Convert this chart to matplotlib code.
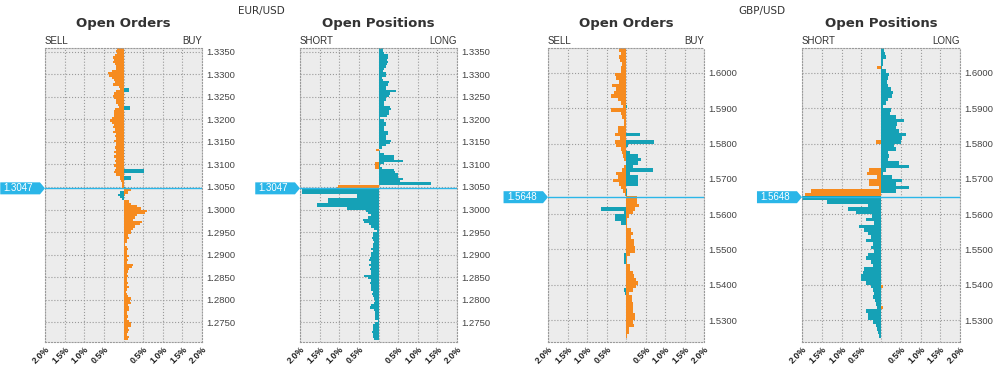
import numpy as np
import matplotlib
matplotlib.use("Agg")
import matplotlib.pyplot as plt
from matplotlib.patches import Polygon
import matplotlib.transforms as mtransforms

ORANGE = '#f68b1f'
TEAL = '#15a1b6'
BLUE = '#2bb6e8'
BG = '#ececec'
GRID = '#9a9a9a'
TXT = '#333333'

# price buckets (bin centres)
eur_levels = np.round(1.33575 - 0.0005 * np.arange(130), 5)
gbp_levels = np.round(1.6065 - 0.001 * np.arange(82), 4)
eur_price = 1.3047
gbp_price = 1.5648
eur_ticks = [1.2750, 1.2800, 1.2850, 1.2900, 1.2950, 1.3000, 1.3050,
             1.3100, 1.3150, 1.3200, 1.3250, 1.3300, 1.3350]
gbp_ticks = [1.5300, 1.5400, 1.5500, 1.5600, 1.5700, 1.5800, 1.5900, 1.6000]
x_ticks = [-2, -1.5, -1, -0.5, 0, 0.5, 1, 1.5, 2]
x_labels = ['2.0%', '1.5%', '1.0%', '0.5%', '', '0.5%', '1.0%', '1.5%', '2.0%']

# EUR/USD open orders (% , left side / right side)
eur_ord_left = [
    0.17, 0.20, 0.17, 0.22, 0.26, 0.25, 0.27, 0.22, 0.18, 0.20,
    0.30, 0.39, 0.36, 0.30, 0.25, 0.22, 0.27, 0.12, 0.10, 0.20,
    0.25, 0.27, 0.24, 0.20, 0.18, 0.15, 0.12, 0.22, 0.25, 0.24,
    0.23, 0.30, 0.34, 0.30, 0.25, 0.28, 0.22, 0.26, 0.20, 0.22,
    0.20, 0.24, 0.18, 0.20, 0.22, 0.20, 0.25, 0.20, 0.23, 0.20,
    0.22, 0.20, 0.24, 0.20, 0.22, 0.24, 0.20, 0.08, 0.10, 0.06,
    0.05, 0.03, 0.03, 0, 0.08, 0.13, 0.10, 0.03, 0, 0,
    0, 0, 0, 0, 0, 0, 0, 0, 0, 0,
    0, 0, 0, 0, 0, 0, 0, 0, 0, 0,
    0, 0, 0, 0, 0, 0, 0, 0, 0, 0,
    0, 0, 0, 0, 0, 0, 0, 0, 0, 0,
    0, 0, 0, 0, 0, 0, 0, 0, 0, 0,
    0, 0, 0, 0, 0, 0, 0, 0, 0, 0,
]
eur_ord_right = [
    0, 0, 0, 0, 0, 0, 0, 0, 0, 0,
    0, 0, 0, 0, 0, 0, 0, 0, 0.15, 0.15,
    0, 0, 0, 0, 0, 0, 0.17, 0.17, 0, 0,
    0, 0, 0, 0, 0, 0, 0, 0, 0, 0,
    0, 0, 0, 0, 0, 0, 0, 0, 0, 0,
    0, 0, 0, 0, 0.52, 0.52, 0, 0.19, 0.19, 0,
    0, 0, 0.04, 0.18, 0.12, 0.05, 0, 0, 0.15, 0.18,
    0.34, 0.45, 0.59, 0.55, 0.34, 0.30, 0.25, 0.46, 0.42, 0.29,
    0.25, 0.18, 0.20, 0.12, 0.14, 0.10, 0.08, 0.05, 0.10, 0.12,
    0.10, 0.08, 0.14, 0.10, 0.12, 0.10, 0.25, 0.22, 0.15, 0.12,
    0.10, 0.12, 0.08, 0.10, 0.12, 0.08, 0.14, 0.10, 0.06, 0.10,
    0.12, 0.18, 0.16, 0.18, 0.12, 0.15, 0.14, 0.10, 0.08, 0.12,
    0.10, 0.14, 0.20, 0.18, 0.12, 0.14, 0.12, 0.10, 0.14, 0.12,
]

# EUR/USD open positions
eur_pos_left = [
    0, 0, 0, 0, 0, 0, 0, 0, 0, 0,
    0, 0, 0, 0, 0, 0, 0, 0, 0, 0,
    0, 0, 0, 0, 0, 0, 0, 0, 0, 0,
    0, 0, 0, 0, 0, 0, 0, 0, 0, 0,
    0, 0, 0, 0, 0, 0.06, 0, 0, 0, 0,
    0, 0.08, 0.10, 0.08, 0, 0, 0, 0, 0, 0,
    0, 1.02, 1.06, 1.96, 1.96, 0.56, 0.56, 1.28, 1.28, 1.57,
    1.57, 0.81, 0.32, 0.28, 0.20, 0.27, 0.39, 0.38, 0.23, 0.20,
    0.12, 0.05, 0.15, 0.13, 0.17, 0.15, 0.12, 0.15, 0.14, 0.20,
    0.15, 0.18, 0.20, 0.22, 0.25, 0.20, 0.24, 0.20, 0.22, 0.18,
    0.20, 0.36, 0.26, 0.20, 0.22, 0.18, 0.20, 0.18, 0.15, 0.16,
    0.14, 0.12, 0.10, 0.12, 0.20, 0.22, 0.12, 0.10, 0.10, 0.08,
    0.10, 0.02, 0.10, 0.14, 0.15, 0.14, 0.16, 0.15, 0.15, 0.12,
]
eur_pos_right = [
    0.12, 0.12, 0.14, 0.25, 0.25, 0.22, 0.25, 0.21, 0.20, 0.14,
    0.12, 0.18, 0.18, 0.10, 0.12, 0.26, 0.24, 0.20, 0.20, 0.45,
    0.29, 0.26, 0.20, 0.18, 0.14, 0.14, 0.30, 0.31, 0.28, 0.26,
    0.22, 0.05, 0.15, 0.20, 0.18, 0.15, 0.14, 0.25, 0.24, 0.20,
    0.18, 0.31, 0.30, 0.20, 0.10, 0.02, 0.05, 0.15, 0.40, 0.40,
    0.63, 0.14, 0.05, 0.10, 0.40, 0.42, 0.49, 0.50, 0.63, 0.55,
    1.35, 0, 0, 0, 0, 0, 0, 0, 0, 0,
    0, 0, 0, 0, 0, 0, 0, 0, 0, 0,
    0, 0, 0, 0, 0, 0, 0, 0, 0, 0,
    0, 0, 0, 0, 0, 0, 0, 0, 0, 0,
    0, 0, 0, 0, 0, 0, 0, 0, 0, 0,
    0, 0, 0, 0, 0, 0, 0, 0, 0, 0,
    0, 0, 0, 0, 0, 0, 0, 0, 0, 0,
]

# GBP/USD open orders
gbp_ord_left = [
    0.18, 0.12, 0.17, 0.15, 0.10, 0.12, 0.12, 0.29, 0.25, 0.17,
    0.35, 0.25, 0.30, 0.38, 0.20, 0.12, 0.08, 0.38, 0.12, 0.10,
    0.04, 0.05, 0.21, 0.20, 0.29, 0.16, 0.27, 0.25, 0.12, 0.10,
    0.08, 0.05, 0, 0.05, 0.10, 0.25, 0.20, 0.34, 0.18, 0.12,
    0.08, 0.02, 0, 0, 0, 0.63, 0.05, 0.27, 0.29, 0.12,
    0, 0, 0, 0, 0, 0, 0, 0, 0.06, 0.04,
    0.04, 0, 0, 0, 0, 0, 0, 0, 0.05, 0.03,
    0, 0, 0, 0, 0, 0, 0, 0, 0, 0,
    0, 0,
]
gbp_ord_right = [
    0, 0, 0, 0, 0, 0, 0, 0, 0, 0,
    0, 0, 0, 0, 0, 0, 0.03, 0, 0, 0,
    0, 0, 0, 0, 0.36, 0, 0.73, 0.05, 0, 0.09,
    0.30, 0.39, 0.30, 0.18, 0.70, 0.09, 0.30, 0.30, 0.30, 0,
    0.02, 0.03, 0.28, 0.28, 0.34, 0.22, 0.17, 0.07, 0.03, 0.02,
    0.03, 0.12, 0.19, 0.13, 0.20, 0.20, 0.24, 0.22, 0.09, 0.03,
    0.02, 0.09, 0.10, 0.19, 0.20, 0.26, 0.30, 0.25, 0.17, 0.07,
    0.16, 0.15, 0.18, 0.17, 0.19, 0.22, 0.24, 0.18, 0.20, 0.08,
    0.07, 0.03,
]

# GBP/USD open positions
gbp_pos_left = [
    0, 0, 0, 0, 0, 0.09, 0, 0, 0, 0,
    0, 0, 0, 0, 0, 0, 0, 0, 0, 0,
    0, 0, 0, 0, 0, 0, 0.13, 0, 0, 0,
    0, 0, 0, 0, 0.30, 0.36, 0.09, 0.30, 0.31, 0.05,
    1.76, 1.93, 2.00, 1.36, 0.34, 0.83, 0.64, 0.23, 0.38, 0.17,
    0.55, 0.43, 0.34, 0.26, 0.38, 0.21, 0.26, 0.17, 0.34, 0.38,
    0.26, 0.21, 0.43, 0.45, 0.51, 0.50, 0.38, 0.26, 0.21, 0.17,
    0.21, 0.14, 0.13, 0.09, 0.38, 0.34, 0.34, 0.21, 0.13, 0.09,
    0.07, 0.06,
]
gbp_pos_right = [
    0.08, 0.10, 0.13, 0.04, 0.04, 0.03, 0.12, 0.21, 0.18, 0.14,
    0.17, 0.26, 0.30, 0.28, 0.17, 0.13, 0.05, 0.26, 0.22, 0.38,
    0.57, 0.40, 0.38, 0.45, 0.64, 0.54, 0.50, 0.34, 0.38, 0.17,
    0.21, 0.17, 0.45, 0.71, 0.13, 0.06, 0.28, 0.54, 0.38, 0.72,
    0.38, 0, 0, 0, 0, 0, 0, 0, 0, 0,
    0, 0, 0, 0, 0, 0, 0, 0, 0, 0,
    0, 0, 0, 0, 0, 0, 0, 0.04, 0, 0,
    0, 0, 0, 0.04, 0, 0, 0, 0, 0, 0,
    0, 0,
]


def draw_panel(ax, levels, left, right, price, binw, ylim, ticks, sides):
    levels = np.asarray(levels)
    above = levels > price
    lcol = np.where(above, ORANGE, TEAL)
    rcol = np.where(above, TEAL, ORANGE)
    ax.set_facecolor(BG)
    ax.barh(levels, -np.asarray(left), height=binw, color=lcol, linewidth=0, zorder=2)
    ax.barh(levels, np.asarray(right), height=binw, color=rcol, linewidth=0, zorder=2)
    ax.set_xlim(-2, 2)
    ax.set_ylim(*ylim)
    ax.set_axisbelow(True)
    ax.grid(True, linestyle=':', color=GRID, linewidth=0.8)
    for s in ax.spines.values():
        s.set_linestyle(':')
        s.set_color(GRID)
        s.set_linewidth(0.8)
    ax.yaxis.tick_right()
    ax.set_yticks(ticks)
    ax.set_yticklabels(['%.4f' % t for t in ticks], fontsize=6.8, color='#444444',
                       family='Liberation Sans')
    ax.set_xticks(x_ticks)
    ax.set_xticklabels(x_labels, rotation=45, ha='right', va='top',
                       rotation_mode='anchor', fontsize=6.4, color='#222222',
                       fontweight='bold', family='Liberation Sans')
    ax.tick_params(length=0, pad=3)
    ax.tick_params(axis='x', pad=2)

    ax.axhline(price, color=BLUE, linewidth=1.0, zorder=4)

    # price tag on the left
    trans = mtransforms.blended_transform_factory(ax.transAxes, ax.transData)
    ppu = ax.bbox.height / (ylim[1] - ylim[0])
    h = 6.0 / ppu
    x0, x1 = -0.285, -0.032
    tag = Polygon([(x0, price - h), (x1, price - h), (0, price),
                   (x1, price + h), (x0, price + h)], closed=True,
                  transform=trans, facecolor=BLUE, edgecolor='none',
                  clip_on=False, zorder=5)
    ax.add_patch(tag)
    ax.text((x0 + x1) / 2 - 0.01, price, '%.4f' % price, transform=trans,
            ha='center', va='center', color='white', fontsize=7,
            family='Liberation Sans', zorder=6, clip_on=False)

    ax.text(0, 1.008, sides[0], transform=ax.transAxes, ha='left', va='bottom',
            fontsize=7, color=TXT, family='Liberation Sans')
    ax.text(1, 1.008, sides[1], transform=ax.transAxes, ha='right', va='bottom',
            fontsize=7, color=TXT, family='Liberation Sans')


fig = plt.figure(figsize=(10, 3.66), dpi=100)
bottom, height = 0.0656, 0.8033
ax1 = fig.add_axes([0.045, bottom, 0.157, height])
ax2 = fig.add_axes([0.300, bottom, 0.157, height])
ax3 = fig.add_axes([0.548, bottom, 0.156, height])
ax4 = fig.add_axes([0.802, bottom, 0.158, height])

eur_ylim = (1.27056, 1.33589)
gbp_ylim = (1.52377, 1.60708)

draw_panel(ax1, eur_levels, eur_ord_left, eur_ord_right, eur_price, 0.0005,
           eur_ylim, eur_ticks, ('SELL', 'BUY'))
draw_panel(ax2, eur_levels, eur_pos_left, eur_pos_right, eur_price, 0.0005,
           eur_ylim, eur_ticks, ('SHORT', 'LONG'))
draw_panel(ax3, gbp_levels, gbp_ord_left, gbp_ord_right, gbp_price, 0.001,
           gbp_ylim, gbp_ticks, ('SELL', 'BUY'))
draw_panel(ax4, gbp_levels, gbp_pos_left, gbp_pos_right, gbp_price, 0.001,
           gbp_ylim, gbp_ticks, ('SHORT', 'LONG'))

ty = 1 - 24 / 366.
for ax, title in [(ax1, 'Open Orders'), (ax2, 'Open Positions'),
                  (ax3, 'Open Orders'), (ax4, 'Open Positions')]:
    pos = ax.get_position()
    fig.text(pos.x0 + pos.width / 2, ty, title, ha='center', va='center',
             fontsize=9.5, fontweight='bold', color=TXT)

fig.text(0.261, 1 - 11 / 366., 'EUR/USD', ha='center', va='center',
         fontsize=7.5, color=TXT)
fig.text(0.762, 1 - 11 / 366., 'GBP/USD', ha='center', va='center',
         fontsize=7.5, color=TXT)

fig.savefig('out.png', dpi=100)
